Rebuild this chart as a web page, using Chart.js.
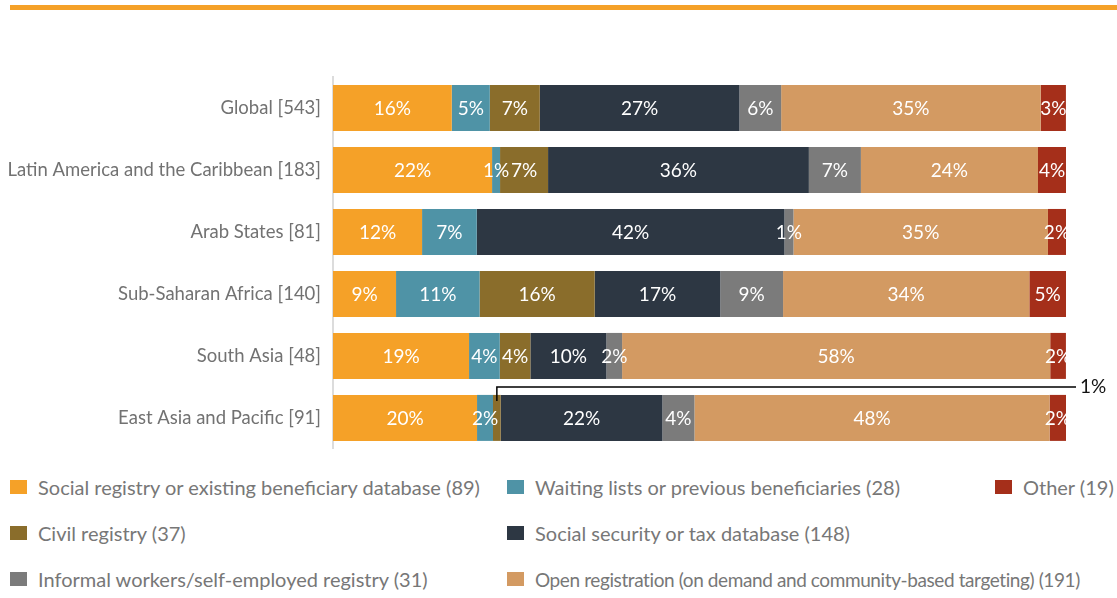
<!DOCTYPE html>
<html>
<head>
<meta charset="utf-8">
<script src="https://cdn.jsdelivr.net/npm/chart.js@4"></script>
<style>
  body { margin: 0; background: #fff; font-family: Lato, "Open Sans", sans-serif; }
  #topline { position: absolute; left: 10px; right: 0; top: 5px; height: 5px; background: #F5A128; }
  #wrap { position: absolute; left: 0; top: 0; width: 1117px; height: 472px; }
  .leg { position: absolute; display: flex; align-items: center; font-size: 20px; color: #777; white-space: nowrap; }
  .leg span.sw { display: inline-block; width: 17px; height: 14px; margin-right: 11px; }
</style>
</head>
<body>
<div id="topline"></div>
<div id="wrap"><canvas id="myChart"></canvas></div>
<div id="legend"></div>
<script>
const categories = [
  "Global [543]",
  "Latin America and the Caribbean [183]",
  "Arab States [81]",
  "Sub-Saharan Africa [140]",
  "South Asia [48]",
  "East Asia and Pacific [91]",
];

const seriesNames = [
  "Social registry or existing beneficiary database (89)",
  "Waiting lists or previous beneficiaries (28)",
  "Civil registry (37)",
  "Social security or tax database (148)",
  "Informal workers/self-employed registry (31)",
  "Open registration (on demand and community-based targeting) (191)",
  "Other (19)",
];

const seriesColors = ["#F5A128", "#4F93A6", "#8A6D2B", "#2D3743", "#7B7B7B", "#D39A62", "#A52F1A"];

// shares in percent, per region
const socialRegistry = [16.2, 21.7, 12.15, 8.6, 18.56, 19.65];
const waitingLists   = [5.19, 1.09, 7.46, 11.4, 4.19, 2.18];
const civilRegistry  = [6.82, 6.55, 0, 15.7, 4.18, 1.05];
const socialSecurity = [27.24, 35.58, 41.98, 17.14, 10.37, 22.06];
const informalReg    = [5.69, 7.1, 1.23, 8.56, 2.14, 4.37];
const openReg        = [35.4, 24.16, 34.72, 33.6, 58.41, 48.45];
const other          = [3.45, 3.82, 2.46, 5.01, 2.14, 2.24];

const seriesValues = [socialRegistry, waitingLists, civilRegistry, socialSecurity, informalReg, openReg, other];

// label shown outside the bar with a leader line
const callout = { series: 2, row: 5 };

const labelPlugin = {
  id: "barLabels",
  afterDatasetsDraw(chart) {
    const ctx = chart.ctx;
    ctx.save();
    ctx.font = "19px Lato, sans-serif";
    ctx.textAlign = "center";
    ctx.textBaseline = "middle";
    chart.data.datasets.forEach((ds, di) => {
      const meta = chart.getDatasetMeta(di);
      meta.data.forEach((bar, i) => {
        const v = ds.data[i];
        if (!v) return;
        const p = bar.getProps(["x", "y", "base", "height"], true);
        const cx = (p.x + p.base) / 2;
        const txt = Math.round(v) + "%";
        if (di === callout.series && i === callout.row) {
          const top = p.y - p.height / 2;
          const ly = top - 8;
          const endX = chart.chartArea.right + 10;
          ctx.strokeStyle = "#000";
          ctx.lineWidth = 1.5;
          ctx.beginPath();
          ctx.moveTo(cx, top + 6);
          ctx.lineTo(cx, ly);
          ctx.lineTo(endX, ly);
          ctx.stroke();
          ctx.fillStyle = "#111";
          ctx.textAlign = "left";
          ctx.fillText(txt, endX + 4, ly);
          ctx.textAlign = "center";
          return;
        }
        ctx.fillStyle = "#fff";
        ctx.fillText(txt, cx, p.y + 1);
      });
    });
    ctx.restore();
  },
};

new Chart(document.getElementById("myChart"), {
  type: "bar",
  data: {
    labels: categories,
    datasets: seriesNames.map((name, k) => ({
      label: name,
      data: seriesValues[k],
      backgroundColor: seriesColors[k],
      borderWidth: 0,
      barPercentage: 0.742,
      categoryPercentage: 1,
    })),
  },
  options: {
    indexAxis: "y",
    responsive: true,
    maintainAspectRatio: false,
    animation: false,
    layout: { padding: { top: 77, right: 51, bottom: 0, left: 0 } },
    plugins: { legend: { display: false }, tooltip: { enabled: false } },
    scales: {
      x: { stacked: true, min: 0, max: 100, display: false },
      y: {
        stacked: true,
        grid: { display: false, drawTicks: false },
        border: { color: "#dcdcdc", width: 2 },
        ticks: { color: "#727272", font: { family: "Lato", size: 18.5 }, padding: 12 },
        afterFit(scale) { scale.width = 333; },
      },
    },
  },
  plugins: [labelPlugin],
});

// legend laid out in three columns like the original
const legendSlots = [
  { s: 0, x: 10, y: 487 }, { s: 1, x: 507, y: 487 }, { s: 6, x: 995, y: 487 },
  { s: 2, x: 10, y: 533 }, { s: 3, x: 507, y: 533 },
  { s: 4, x: 10, y: 579 }, { s: 5, x: 507, y: 579, tight: true },
];
const legendEl = document.getElementById("legend");
legendSlots.forEach((slot) => {
  const d = document.createElement("div");
  d.className = "leg";
  d.style.left = slot.x + "px";
  d.style.top = (slot.y - 13) + "px";
  d.style.height = "26px";
  if (slot.tight) {
    d.style.fontSize = "19px";
    d.style.letterSpacing = "-0.4px";
  }
  d.innerHTML = '<span class="sw" style="background:' + seriesColors[slot.s] + '"></span>' + seriesNames[slot.s];
  legendEl.appendChild(d);
});
</script>
</body>
</html>
